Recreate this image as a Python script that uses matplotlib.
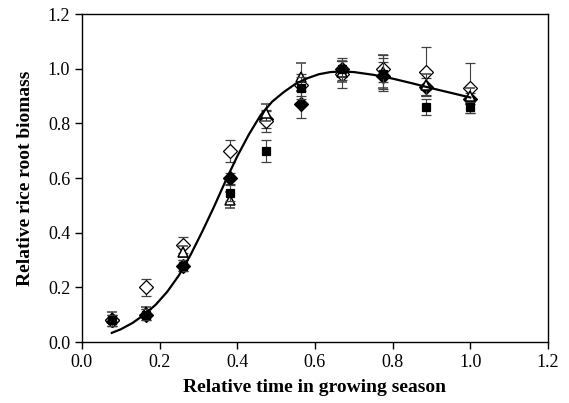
import numpy as np
import matplotlib
matplotlib.use("Agg")
import matplotlib.pyplot as plt

plt.rcParams['font.family'] = ['Liberation Serif', 'DejaVu Serif']

# sampling times (relative)
t = [0.077, 0.165, 0.26, 0.38, 0.475, 0.565, 0.67, 0.775, 0.885, 1.0]

# four series
filled_diamond = [0.08, 0.10, 0.28, 0.60, 0.815, 0.87, 1.00, 0.975, 0.935, 0.89]
filled_diamond_err = [0.02, 0.02, 0.02, 0.02, 0.03, 0.05, 0.03, 0.05, 0.03, 0.02]
filled_square = [0.08, 0.10, 0.28, 0.545, 0.70, 0.93, 1.00, 0.98, 0.86, 0.86]
filled_square_err = [0.02, 0.02, 0.02, 0.03, 0.04, 0.04, 0.04, 0.06, 0.03, 0.02]
open_triangle = [0.09, 0.11, 0.33, 0.52, 0.84, 0.97, 0.99, 0.99, 0.94, 0.90]
open_triangle_err = [0.02, 0.02, 0.02, 0.03, 0.03, 0.05, 0.04, 0.06, 0.04, 0.03]
open_diamond = [0.08, 0.20, 0.355, 0.70, 0.81, 0.94, 0.98, 1.00, 0.99, 0.93]
open_diamond_err = [0.02, 0.03, 0.03, 0.04, 0.04, 0.04, 0.05, 0.05, 0.09, 0.09]

# fitted curve
fit_t = [0.077, 0.10, 0.13, 0.16, 0.19, 0.22, 0.25, 0.28, 0.31, 0.34, 0.37,
         0.40, 0.43, 0.46, 0.49, 0.52, 0.55, 0.58, 0.61, 0.64, 0.67, 0.70,
         0.75, 0.80, 0.85, 0.90, 0.95, 1.00]
fit_y = [0.034, 0.047, 0.07, 0.10, 0.137, 0.185, 0.245, 0.32, 0.405, 0.495,
         0.59, 0.68, 0.76, 0.83, 0.88, 0.915, 0.945, 0.965, 0.98, 0.988,
         0.99, 0.988, 0.978, 0.964, 0.947, 0.929, 0.912, 0.895]

fig = plt.figure(figsize=(5.69, 4.03), dpi=100)
ax = fig.add_axes([0.144, 0.151, 0.819, 0.814])

ebkw = dict(linestyle='none', ecolor='0.25', elinewidth=0.8, capsize=3.5,
            capthick=0.8, markersize=7, markeredgewidth=0.9)

# filled diamonds go underneath, so some of them are hidden as in the original
ax.errorbar(t, filled_diamond, yerr=filled_diamond_err, marker='D',
            mfc='black', mec='black', zorder=2, **ebkw)
ax.errorbar(t, open_diamond, yerr=open_diamond_err, marker='D',
            mfc='white', mec='black', zorder=3, **ebkw)
ax.errorbar(t, open_triangle, yerr=open_triangle_err, marker='^',
            mfc='white', mec='black', zorder=3.5, **dict(ebkw, markeredgewidth=1.1))
ax.errorbar(t, filled_square, yerr=filled_square_err, marker='s',
            mfc='black', mec='black', zorder=4, **dict(ebkw, markersize=6))

ax.plot(fit_t, fit_y, color='black', lw=1.6, zorder=5)

ax.set_xlim(0, 1.2)
ax.set_ylim(0, 1.2)
ticks = np.arange(0, 1.21, 0.2)
ax.set_xticks(ticks)
ax.set_yticks(ticks)
ax.set_xticklabels([f"{v:.1f}" for v in ticks])
ax.set_yticklabels([f"{v:.1f}" for v in ticks])
ax.tick_params(direction='out', length=5, width=1, labelsize=13)
for s in ax.spines.values():
    s.set_linewidth(1)

ax.set_xlabel("Relative time in growing season", fontsize=14, fontweight='bold', labelpad=6)
ax.set_ylabel("Relative rice root biomass", fontsize=14, fontweight='bold', labelpad=10)

fig.savefig("out.png", dpi=100)
